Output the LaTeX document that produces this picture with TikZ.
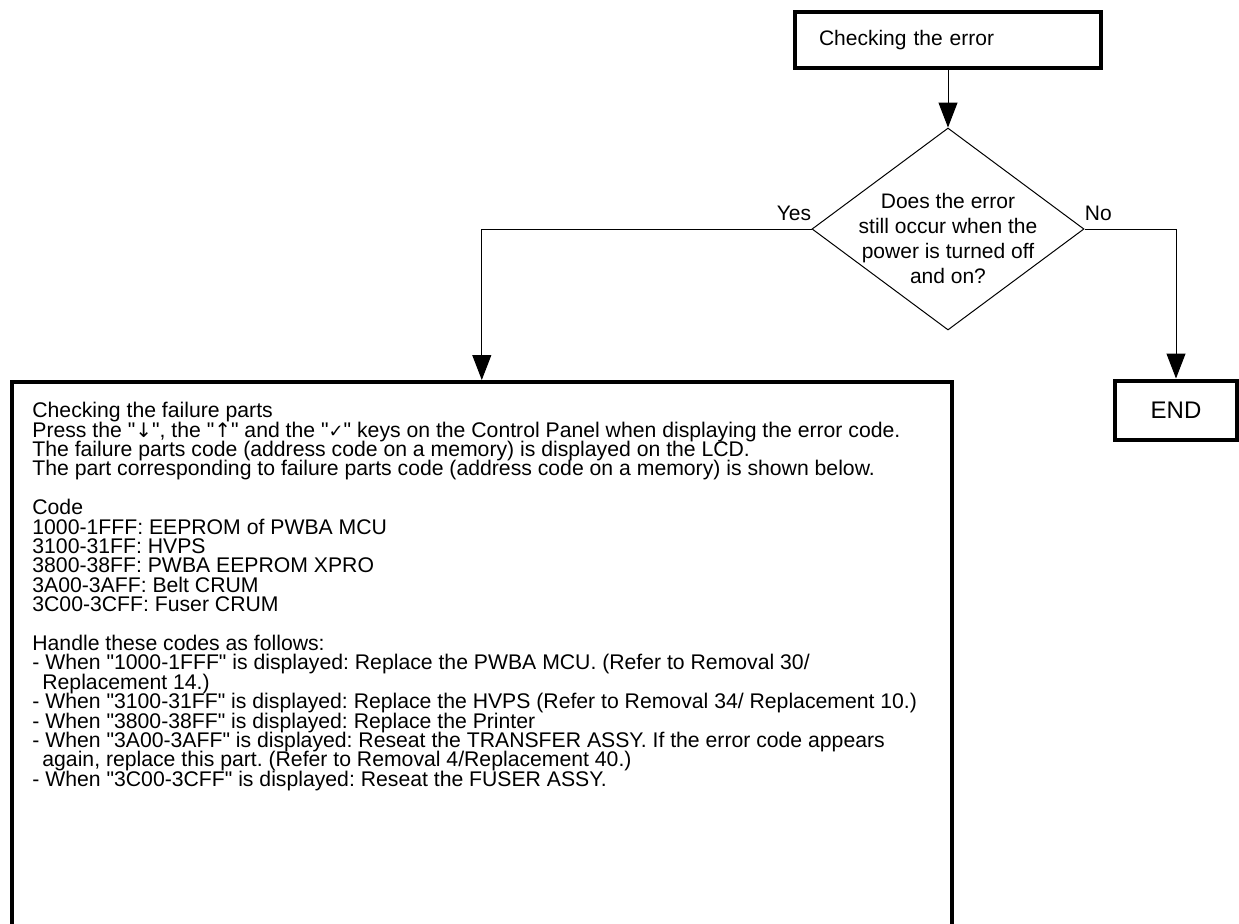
\documentclass[tikz,border=0pt]{standalone}
\usepackage{fontspec}
\setmainfont{Liberation Sans}
\newfontfamily\symbfont{DejaVu Sans}
\font\partsfont="Liberation Sans" at 10.6pt
\usetikzlibrary{positioning,arrows.meta,shapes.geometric}

\begin{document}
\begin{tikzpicture}[
		x=0.5pt, y=-0.5pt,
		font=\fontsize{10.5pt}{12.5pt}\selectfont,
		>={Triangle[length=12.5pt,width=9.5pt]},
		flow/.style={->, line width=0.5pt},
		box/.style={draw, rectangle, line width=1.7pt, inner sep=0pt},
		ask/.style={draw, diamond, line width=0.5pt, inner sep=0pt,
			minimum width=136pt, minimum height=101pt},
		lbl/.style={inner sep=0pt}
		]
		
		\useasboundingbox (0,0) rectangle (1239,923);
		\clip (0,0) rectangle (1239,923);
		
		\node (check) [box, minimum width=153pt, minimum height=28pt,
			text width=129pt, align=left] at (948,40) {Checking the error};
		
		\node (ask) [ask] at (948,229) {};
		\node (asktext) [lbl, align=center] at ([yshift=-4.5pt]ask.center)
		{Does the error\\still occur when the\\power is turned off\\and on?};
		
		\node (yes) [lbl, anchor=base east] at ([yshift=4.5pt]ask.west) {Yes};
		\node (no) [lbl, anchor=base west] at ([yshift=4.5pt]ask.east) {No};
		
		\node (end) [box, line width=2pt, minimum width=61pt, minimum height=29.5pt,
			font=\fontsize{12pt}{14pt}\selectfont] at (1176,410) {END};
		
		\node (parts) [box, line width=1.8pt, anchor=north west,
			minimum width=470pt, minimum height=400pt] at (10,380) {};
		\node (partstext) [lbl, anchor=north west, align=left,
			font={\partsfont\frenchspacing\baselineskip=9.7pt\lineskiplimit=-20pt}]
		at ([shift={(22,22)}]parts.north west)
		{Checking the failure parts\\
			Press the "{\symbfont\normalsize ↓}", the "{\symbfont\normalsize ↑}" and the "{\symbfont\small ✓}" keys on the Control Panel when displaying the error code.\\
			The failure parts code (address code on a memory) is displayed on the LCD.\\
			The part corresponding to failure parts code (address code on a memory) is shown below.\\[9.7pt]
			Code\\
			1000-1FFF: EEPROM of PWBA MCU\\
			3100-31FF: HVPS\\
			3800-38FF: PWBA EEPROM XPRO\\
			3A00-3AFF: Belt CRUM\\
			3C00-3CFF: Fuser CRUM\\[9.7pt]
			Handle these codes as follows:\\
			- When "1000-1FFF" is displayed: Replace the PWBA MCU. (Refer to Removal 30/\\
			\hspace*{5pt}Replacement 14.)\\
			- When "3100-31FF" is displayed: Replace the HVPS (Refer to Removal 34/ Replacement 10.)\\
			- When "3800-38FF" is displayed: Replace the Printer\\
			- When "3A00-3AFF" is displayed: Reseat the TRANSFER ASSY. If the error code appears\\
			\hspace*{5pt}again, replace this part. (Refer to Removal 4/Replacement 40.)\\
			- When "3C00-3CFF" is displayed: Reseat the FUSER ASSY.};
		
		\draw[flow] (check.south) -- (ask.north);
		\draw[flow] (ask.west) -| (parts.north);
		\draw[flow] (ask.east) -| (end.north);
		
	\end{tikzpicture}
\end{document}
